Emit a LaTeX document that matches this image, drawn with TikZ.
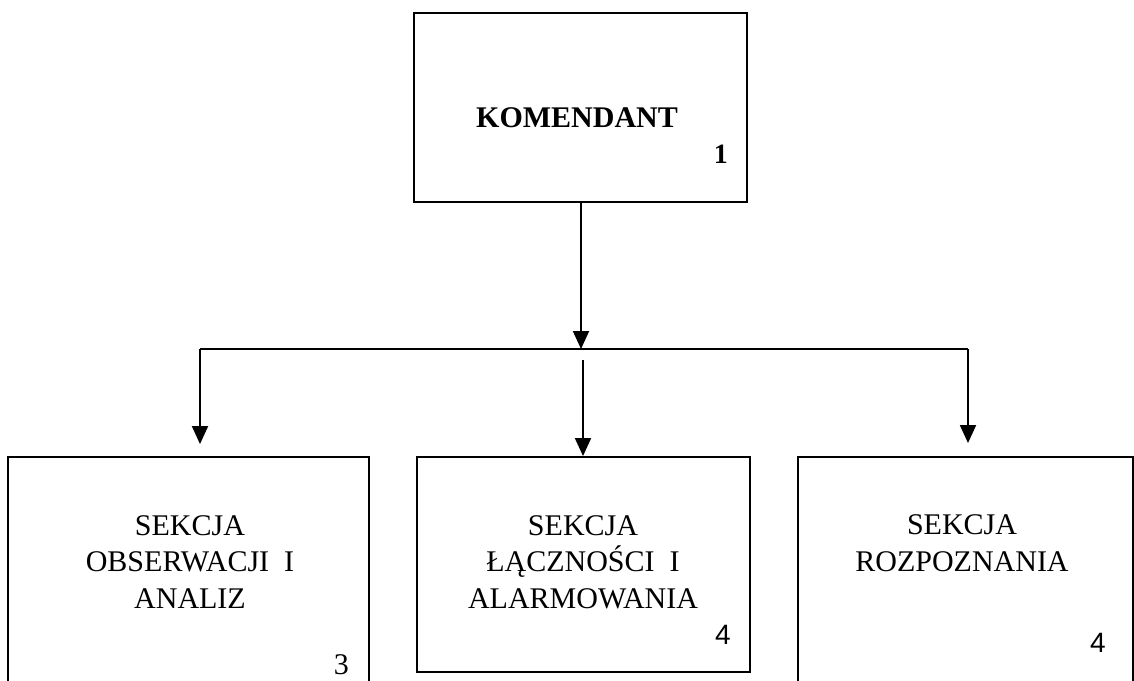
\documentclass[tikz,border=0pt]{standalone}
\usepackage{fontspec}
\setmainfont{Liberation Serif}
\newfontfamily\numsans{Liberation Sans}
\usetikzlibrary{arrows.meta}
\begin{document}
\begin{tikzpicture}[x=1pt,y=-1pt,
  boxshape/.style={draw, line width=1.9pt, inner sep=0pt, rectangle},
  lbl/.style={anchor=base, align=center, inner sep=0pt, font=\fontsize{30}{36.5}\selectfont},
  numlbl/.style={anchor=base east, inner sep=0pt, font=\fontsize{30}{36}\selectfont},
  numsanslbl/.style={anchor=base east, inner sep=0pt, font=\numsans\fontsize{28}{34}\selectfont},
  conn/.style={line width=1.9pt},
  arr/.style={line width=1.9pt, -{Triangle[length=18pt,width=16pt]}}
]
\useasboundingbox (0,0) rectangle (1134,680);
\clip (0,0) rectangle (1134,680);

% boxes
\node[boxshape, minimum width=333pt, minimum height=189pt] (top) at (580.5,107.5) {};
\node[boxshape, minimum width=361pt, minimum height=243pt] (left) at (188.5,578.5) {};
\node[boxshape, minimum width=333pt, minimum height=215pt] (mid) at (583.5,564.5) {};
\node[boxshape, minimum width=335pt, minimum height=243pt] (right) at (965.5,578.5) {};

% texts
\node[lbl, font=\bfseries\fontsize{30}{36}\selectfont] (ttop) at (577,127) {KOMENDANT};
\node[numlbl, font=\bfseries\fontsize{28}{34}\selectfont] (ntop) at (728,163) {1};

\node[lbl] (tleft) at (190,608) {SEKCJA\\OBSERWACJI\ \ I\\ANALIZ};
\node[numlbl] (nleft) at (349,674) {3};

\node[lbl] (tmid) at (583,608) {SEKCJA\\ŁĄCZNOŚCI\ \ I\\ALARMOWANIA};
\node[numsanslbl] (nmid) at (731,644) {4};

\node[lbl] (tright) at (962,571) {SEKCJA\\ROZPOZNANIA};
\node[numsanslbl] (nright) at (1106,652) {4};

% connectors
\coordinate (jn) at (581,349);
\coordinate (jl) at (200,349);
\coordinate (jr) at (968,349);
\coordinate (ms) at (583,360);

\draw[arr] (top.south -| jn) -- (jn);
\draw[conn] (jl) -- (jr);
\draw[arr, shorten >=12pt] (jl) -- (jl |- left.north);
\draw[arr] (ms) -- (ms |- mid.north);
\draw[arr, shorten >=13pt] (jr) -- (jr |- right.north);
\end{tikzpicture}
\end{document}
